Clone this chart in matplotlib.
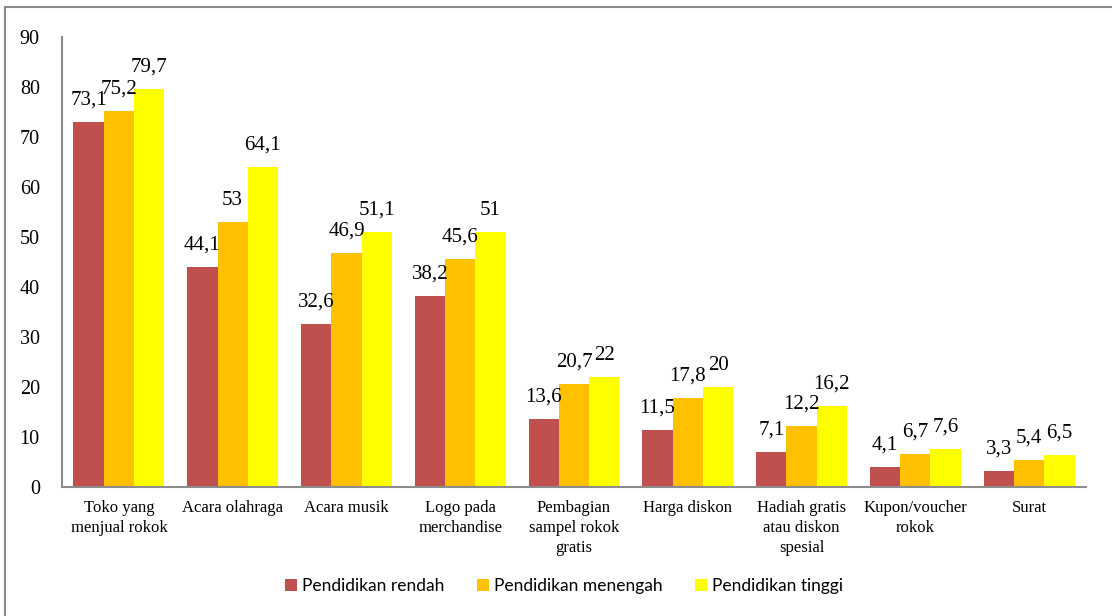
import matplotlib
matplotlib.use("Agg")
import matplotlib.pyplot as plt
import numpy as np
from matplotlib.patches import Rectangle

plt.rcParams["font.serif"] = ["Liberation Serif", "DejaVu Serif"]

categories = ["Toko yang\nmenjual rokok", "Acara olahraga", "Acara musik",
              "Logo pada\nmerchandise", "Pembagian\nsampel rokok\ngratis",
              "Harga diskon", "Hadiah gratis\natau diskon\nspesial",
              "Kupon/voucher\nrokok", "Surat"]
series_names = ["Pendidikan rendah", "Pendidikan menengah", "Pendidikan tinggi"]
rendah = [73.1, 44.1, 32.6, 38.2, 13.6, 11.5, 7.1, 4.1, 3.3]
menengah = [75.2, 53, 46.9, 45.6, 20.7, 17.8, 12.2, 6.7, 5.4]
tinggi = [79.7, 64.1, 51.1, 51, 22, 20, 16.2, 7.6, 6.5]
colors = ["#C0504D", "#FFC000", "#FFFF00"]
yticks = [0, 10, 20, 30, 40, 50, 60, 70, 80, 90]

W, H = 1112, 616
fig = plt.figure(figsize=(W/100, H/100), dpi=100)
ax = fig.add_axes([62/W, 1-487/H, (1086-62)/W, (487-37)/H])

x = np.arange(len(categories))
bw = 0.266
serif = ["Liberation Serif", "DejaVu Serif"]
for i, (vals, c, name) in enumerate(zip([rendah, menengah, tinggi], colors, series_names)):
    pos = x + (i-1)*bw
    ax.bar(pos, vals, width=bw, color=c, label=name, zorder=2)
    for p, v in zip(pos, vals):
        lab = (f"{v:g}").replace(".", ",")
        ax.text(p, v + 2.4, lab, ha="center", va="bottom", fontsize=15,
                family=serif, color="black")

ax.set_xlim(-0.5, len(categories)-0.5)
ax.set_ylim(0, 90)
ax.set_yticks(yticks)
ax.set_yticklabels([str(t) for t in yticks], family=serif, fontsize=14.5)
ax.set_xticks(x)
ax.set_xticklabels(categories, family=serif, fontsize=12, linespacing=1.35, va="top")
ax.tick_params(axis="both", length=0)
ax.tick_params(axis="y", pad=16)
ax.tick_params(axis="x", pad=9)
for s in ["top", "right"]:
    ax.spines[s].set_visible(False)
for s in ["left", "bottom"]:
    ax.spines[s].set_color("#8c8c8c")
    ax.spines[s].set_linewidth(1.5)

fig.legend(loc="center", bbox_to_anchor=(564/W, 1-586/H), ncol=3, frameon=False,
           prop={"family": "Lato", "size": 12.5}, handlelength=0.7, handleheight=0.7,
           columnspacing=1.85, handletextpad=0.3)

fig.add_artist(Rectangle((5/W, -0.05), 1.1, 1-7/H+0.05, transform=fig.transFigure,
                         fill=False, edgecolor="#8c8c8c", linewidth=1.5))

fig.savefig("out.png", dpi=100)
